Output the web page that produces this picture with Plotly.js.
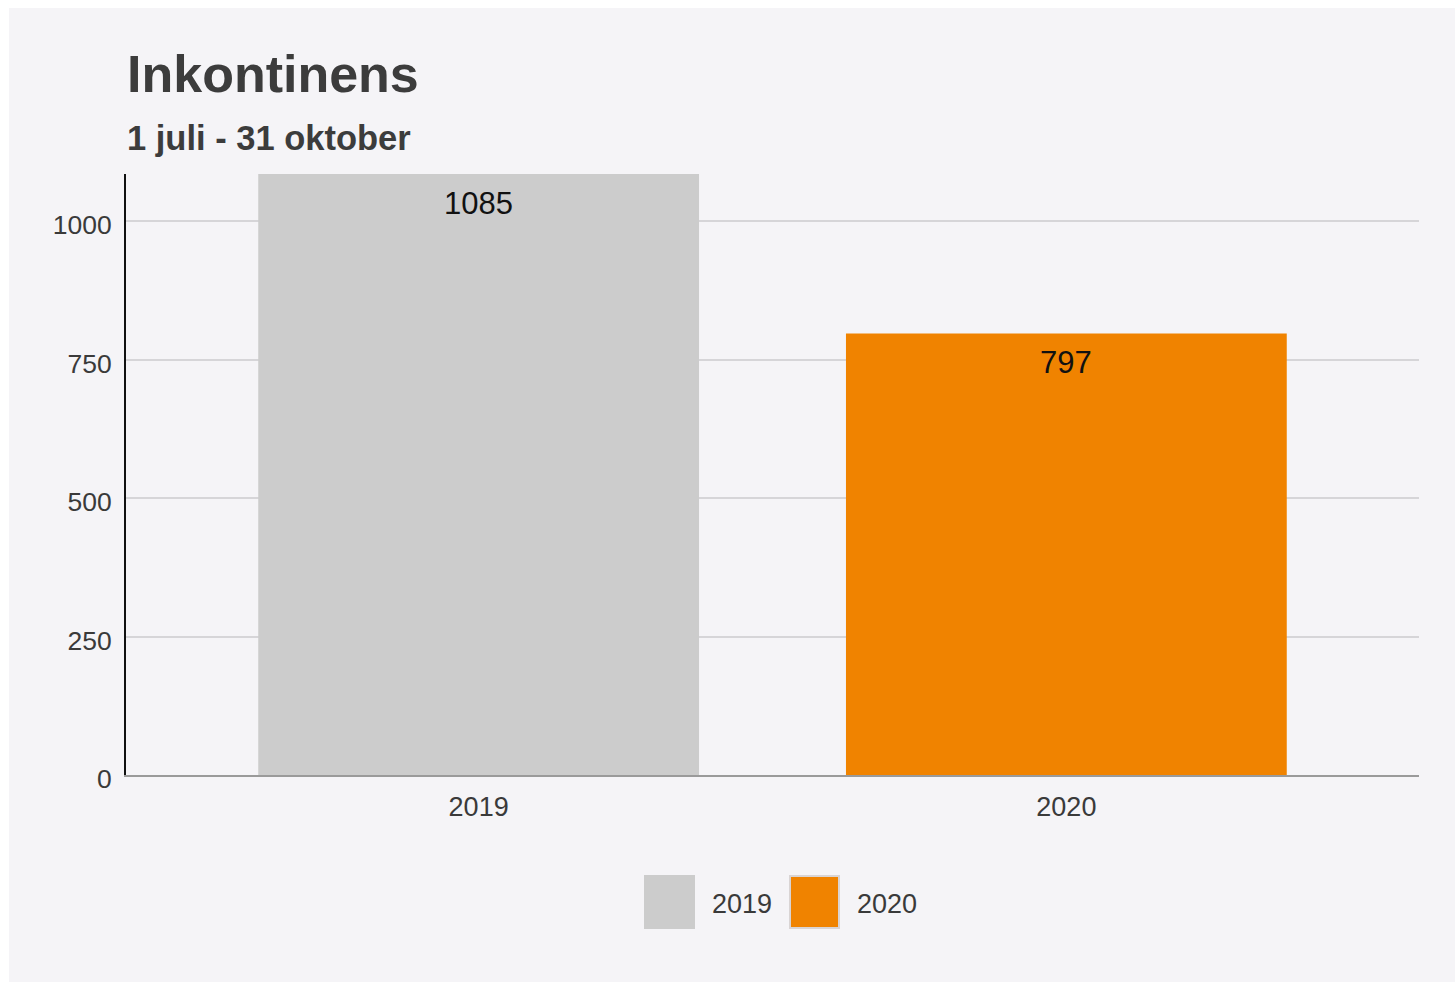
<!DOCTYPE html>
<html>
<head>
<meta charset="utf-8">
<script src="https://cdn.plot.ly/plotly-3.0.1.min.js"></script>
<style>
  html, body { margin: 0; padding: 0; background: #ffffff; width: 1455px; height: 982px; overflow: hidden; }
  #chart { position: absolute; left: 9px; top: 8px; width: 1446px; height: 974px; }
</style>
</head>
<body>
<div id="chart"></div>
<script>
// Data
const categories = ["2019", "2020"];
const seriesNames = ["2019", "2020"];
const values = [1085, 797];
const colors = ["#cccccc", "#f08300"];
const yTicks = [0, 250, 500, 750, 1000];

const FONT = "Arial, 'Liberation Sans', sans-serif";

const traces = categories.map((c, i) => ({
  type: "bar",
  name: seriesNames[i],
  x: [c],
  y: [values[i]],
  width: 0.75,
  marker: { color: colors[i], line: { width: 0 } },
  hoverinfo: "x+y",
  showlegend: false
}));

const annotations = [];
// value labels inside bar tops (x given as category index)
categories.forEach((c, i) => {
  annotations.push({
    x: i, y: values[i], xref: "x", yref: "y",
    text: String(values[i]), showarrow: false,
    yanchor: "middle", xanchor: "center", yshift: -29,
    font: { family: FONT, size: 31, color: "#111111" }
  });
});
// titles
annotations.push({
  xref: "paper", yref: "paper", x: 0, y: 1, xanchor: "left", yanchor: "bottom",
  xshift: -1, yshift: 69, text: "<b>Inkontinens</b>", showarrow: false,
  font: { family: FONT, size: 52, color: "#3c3c3c" }
});
annotations.push({
  xref: "paper", yref: "paper", x: 0, y: 1, xanchor: "left", yanchor: "bottom",
  xshift: -1, yshift: 15, text: "<b>1 juli - 31 oktober</b>", showarrow: false,
  font: { family: FONT, size: 34.5, color: "#3c3c3c" }
});

// custom legend (large swatches)
const shapes = [];
const legendSwatchX = [636, 781]; // px within div
const legendTextX = [701, 846];
const W = 1446, H = 974, ml = 117, mr = 36, mt = 166, mb = 207;
const pw = W - ml - mr, ph = H - mt - mb;
const px2x = p => (p - ml) / pw;
const py2y = p => (H - mb - p) / ph;
seriesNames.forEach((n, i) => {
  shapes.push({
    type: "rect", xref: "paper", yref: "paper",
    x0: px2x(legendSwatchX[i]), x1: px2x(legendSwatchX[i] + 49),
    y0: py2y(868), y1: py2y(920),
    fillcolor: colors[i],
    line: { color: i === 0 ? "#cccccc" : "#d9d4d4", width: 2 }
  });
  annotations.push({
    xref: "paper", yref: "paper", x: px2x(legendTextX[i]), y: py2y(896),
    xanchor: "left", yanchor: "middle", text: n, showarrow: false,
    font: { family: FONT, size: 27, color: "#3a3a3a" }
  });
});

const layout = {
  width: W, height: H,
  margin: { l: ml, r: mr, t: mt, b: mb, pad: 0 },
  paper_bgcolor: "#f5f4f7",
  plot_bgcolor: "#f5f4f7",
  barmode: "overlay",
  showlegend: false,
  xaxis: {
    type: "category",
    range: [-0.6, 1.6],
    showgrid: false,
    showline: true, linecolor: "#9a9a9a", linewidth: 2,
    ticks: "", ticklabelstandoff: 7,
    tickfont: { family: FONT, size: 27, color: "#3a3a3a" },
    fixedrange: true
  },
  yaxis: {
    range: [0, 1085],
    tickvals: yTicks,
    ticktext: yTicks.map(String),
    showgrid: true, gridcolor: "#d6d5d8", gridwidth: 2,
    zeroline: false,
    showline: true, linecolor: "#111111", linewidth: 2,
    ticks: "", ticklabelstandoff: 7, ticklabelshift: 4,
    tickfont: { family: FONT, size: 26.5, color: "#3a3a3a" },
    fixedrange: true
  },
  annotations: annotations,
  shapes: shapes
};

Plotly.newPlot("chart", traces, layout, { displayModeBar: false, staticPlot: true });
</script>
</body>
</html>
